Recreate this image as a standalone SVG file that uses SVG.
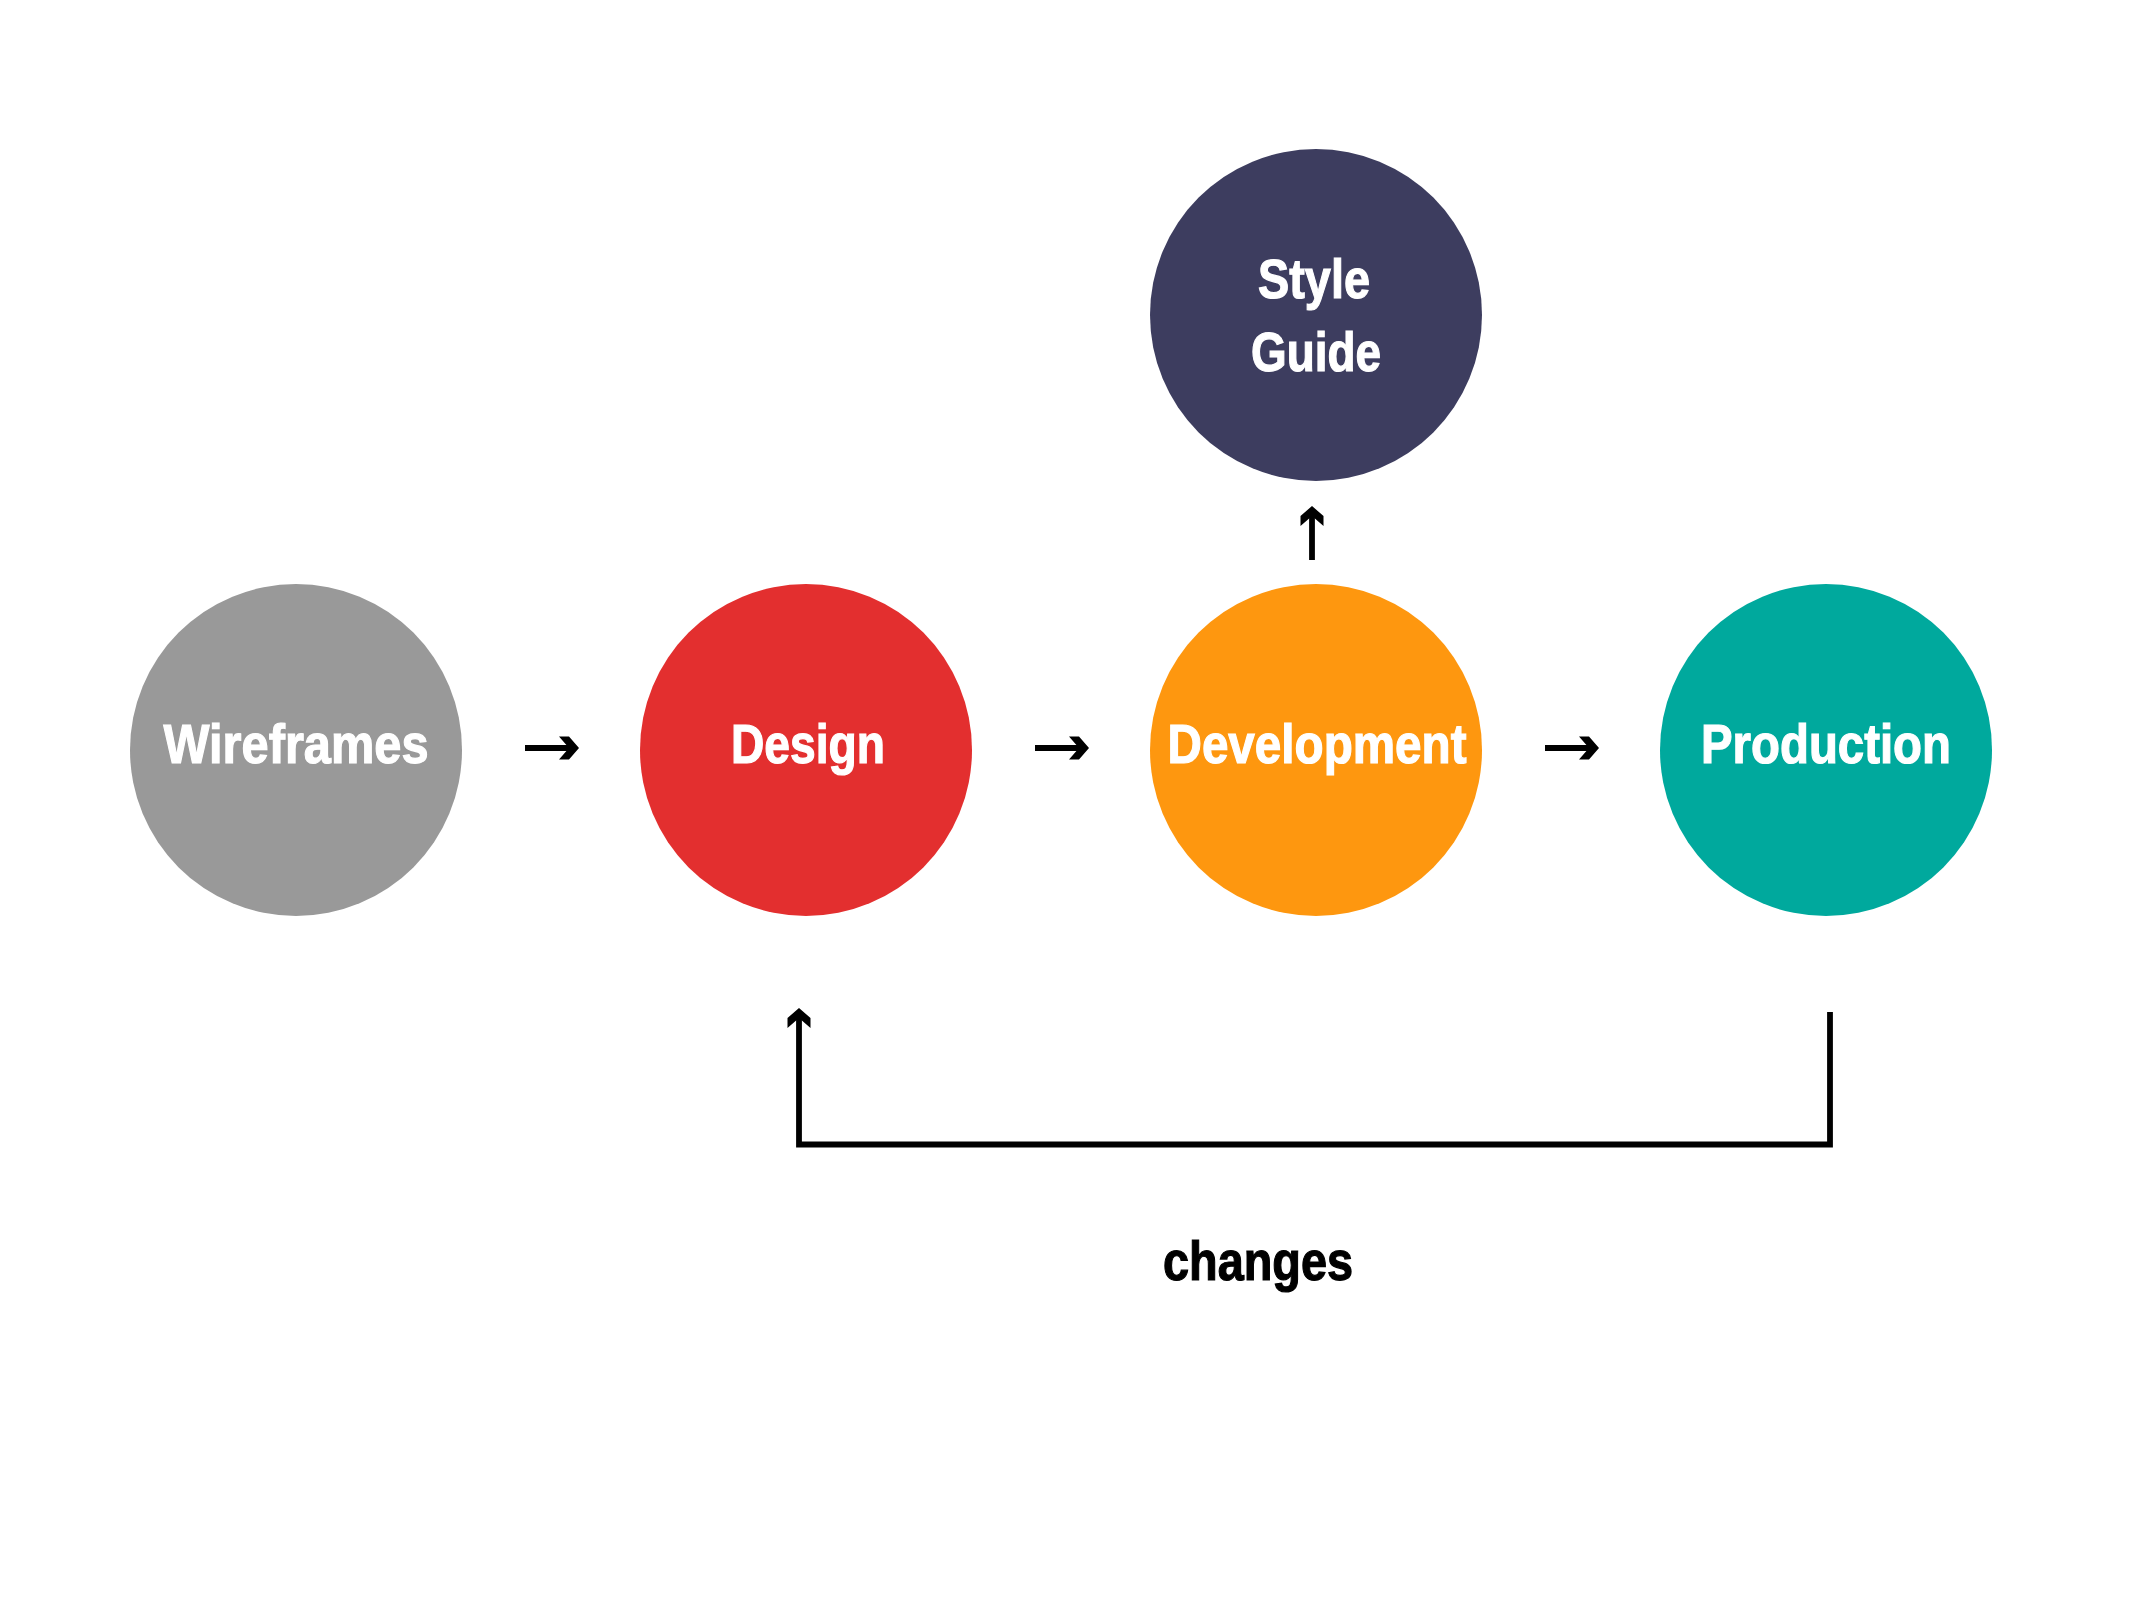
<svg xmlns="http://www.w3.org/2000/svg" width="2133" height="1600" viewBox="0 0 2133 1600">
  <defs>
    <style>
      .node-label { font-family: "Liberation Sans Narrow", "Liberation Sans", Arial, sans-serif; font-weight: bold; font-size: 55px; fill: #ffffff; stroke: #ffffff; stroke-width: 1.2; text-anchor: middle; }
      .edge-label { font-family: "Liberation Sans Narrow", "Liberation Sans", Arial, sans-serif; font-weight: bold; font-size: 55px; fill: #000000; stroke: #000000; stroke-width: 1.2; text-anchor: middle; }
      .conn { fill: none; stroke: #000000; stroke-width: 5.8; stroke-linejoin: miter; marker-end: url(#chev); }
    </style>
    <marker id="chev" markerUnits="userSpaceOnUse" viewBox="-21 -13 22 26" markerWidth="22" markerHeight="26" refX="-3" refY="0" orient="auto">
      <polygon points="-10,-11.5 0,0 -10,11.5 -20,11.5 -10,0 -20,-11.5" fill="#000000"/>
    </marker>
  </defs>
  <rect x="0" y="0" width="2133" height="1600" fill="#ffffff"/>

  <g id="connectors">
    <line class="conn" x1="525" y1="748" x2="576" y2="748"/>
    <line class="conn" x1="1035" y1="748" x2="1086" y2="748"/>
    <line class="conn" x1="1545" y1="748" x2="1596" y2="748"/>
    <line class="conn" x1="1312" y1="560" x2="1312" y2="509"/>
    <path class="conn" d="M1830 1012 V1144.5 H799 V1011"/>
    <text class="edge-label" x="1258" y="1280" textLength="190" lengthAdjust="spacingAndGlyphs">changes</text>
  </g>

  <g id="node-wireframes">
    <circle cx="296" cy="750" r="166" fill="#999999"/>
    <text class="node-label" x="296" y="763" textLength="265" lengthAdjust="spacingAndGlyphs">Wireframes</text>
  </g>

  <g id="node-design">
    <circle cx="806" cy="750" r="166" fill="#E32F2F"/>
    <text class="node-label" x="808" y="763" textLength="154" lengthAdjust="spacingAndGlyphs">Design</text>
  </g>

  <g id="node-development">
    <circle cx="1316" cy="750" r="166" fill="#FE970F"/>
    <text class="node-label" x="1317" y="763" textLength="299" lengthAdjust="spacingAndGlyphs">Development</text>
  </g>

  <g id="node-production">
    <circle cx="1826" cy="750" r="166" fill="#00A99D"/>
    <text class="node-label" x="1826" y="763" textLength="250" lengthAdjust="spacingAndGlyphs">Production</text>
  </g>

  <g id="node-style-guide">
    <circle cx="1316" cy="315" r="166" fill="#3D3D5F"/>
    <text class="node-label" x="1314" y="298" textLength="112" lengthAdjust="spacingAndGlyphs">Style</text>
    <text class="node-label" x="1316" y="371" textLength="130" lengthAdjust="spacingAndGlyphs">Guide</text>
  </g>
</svg>
